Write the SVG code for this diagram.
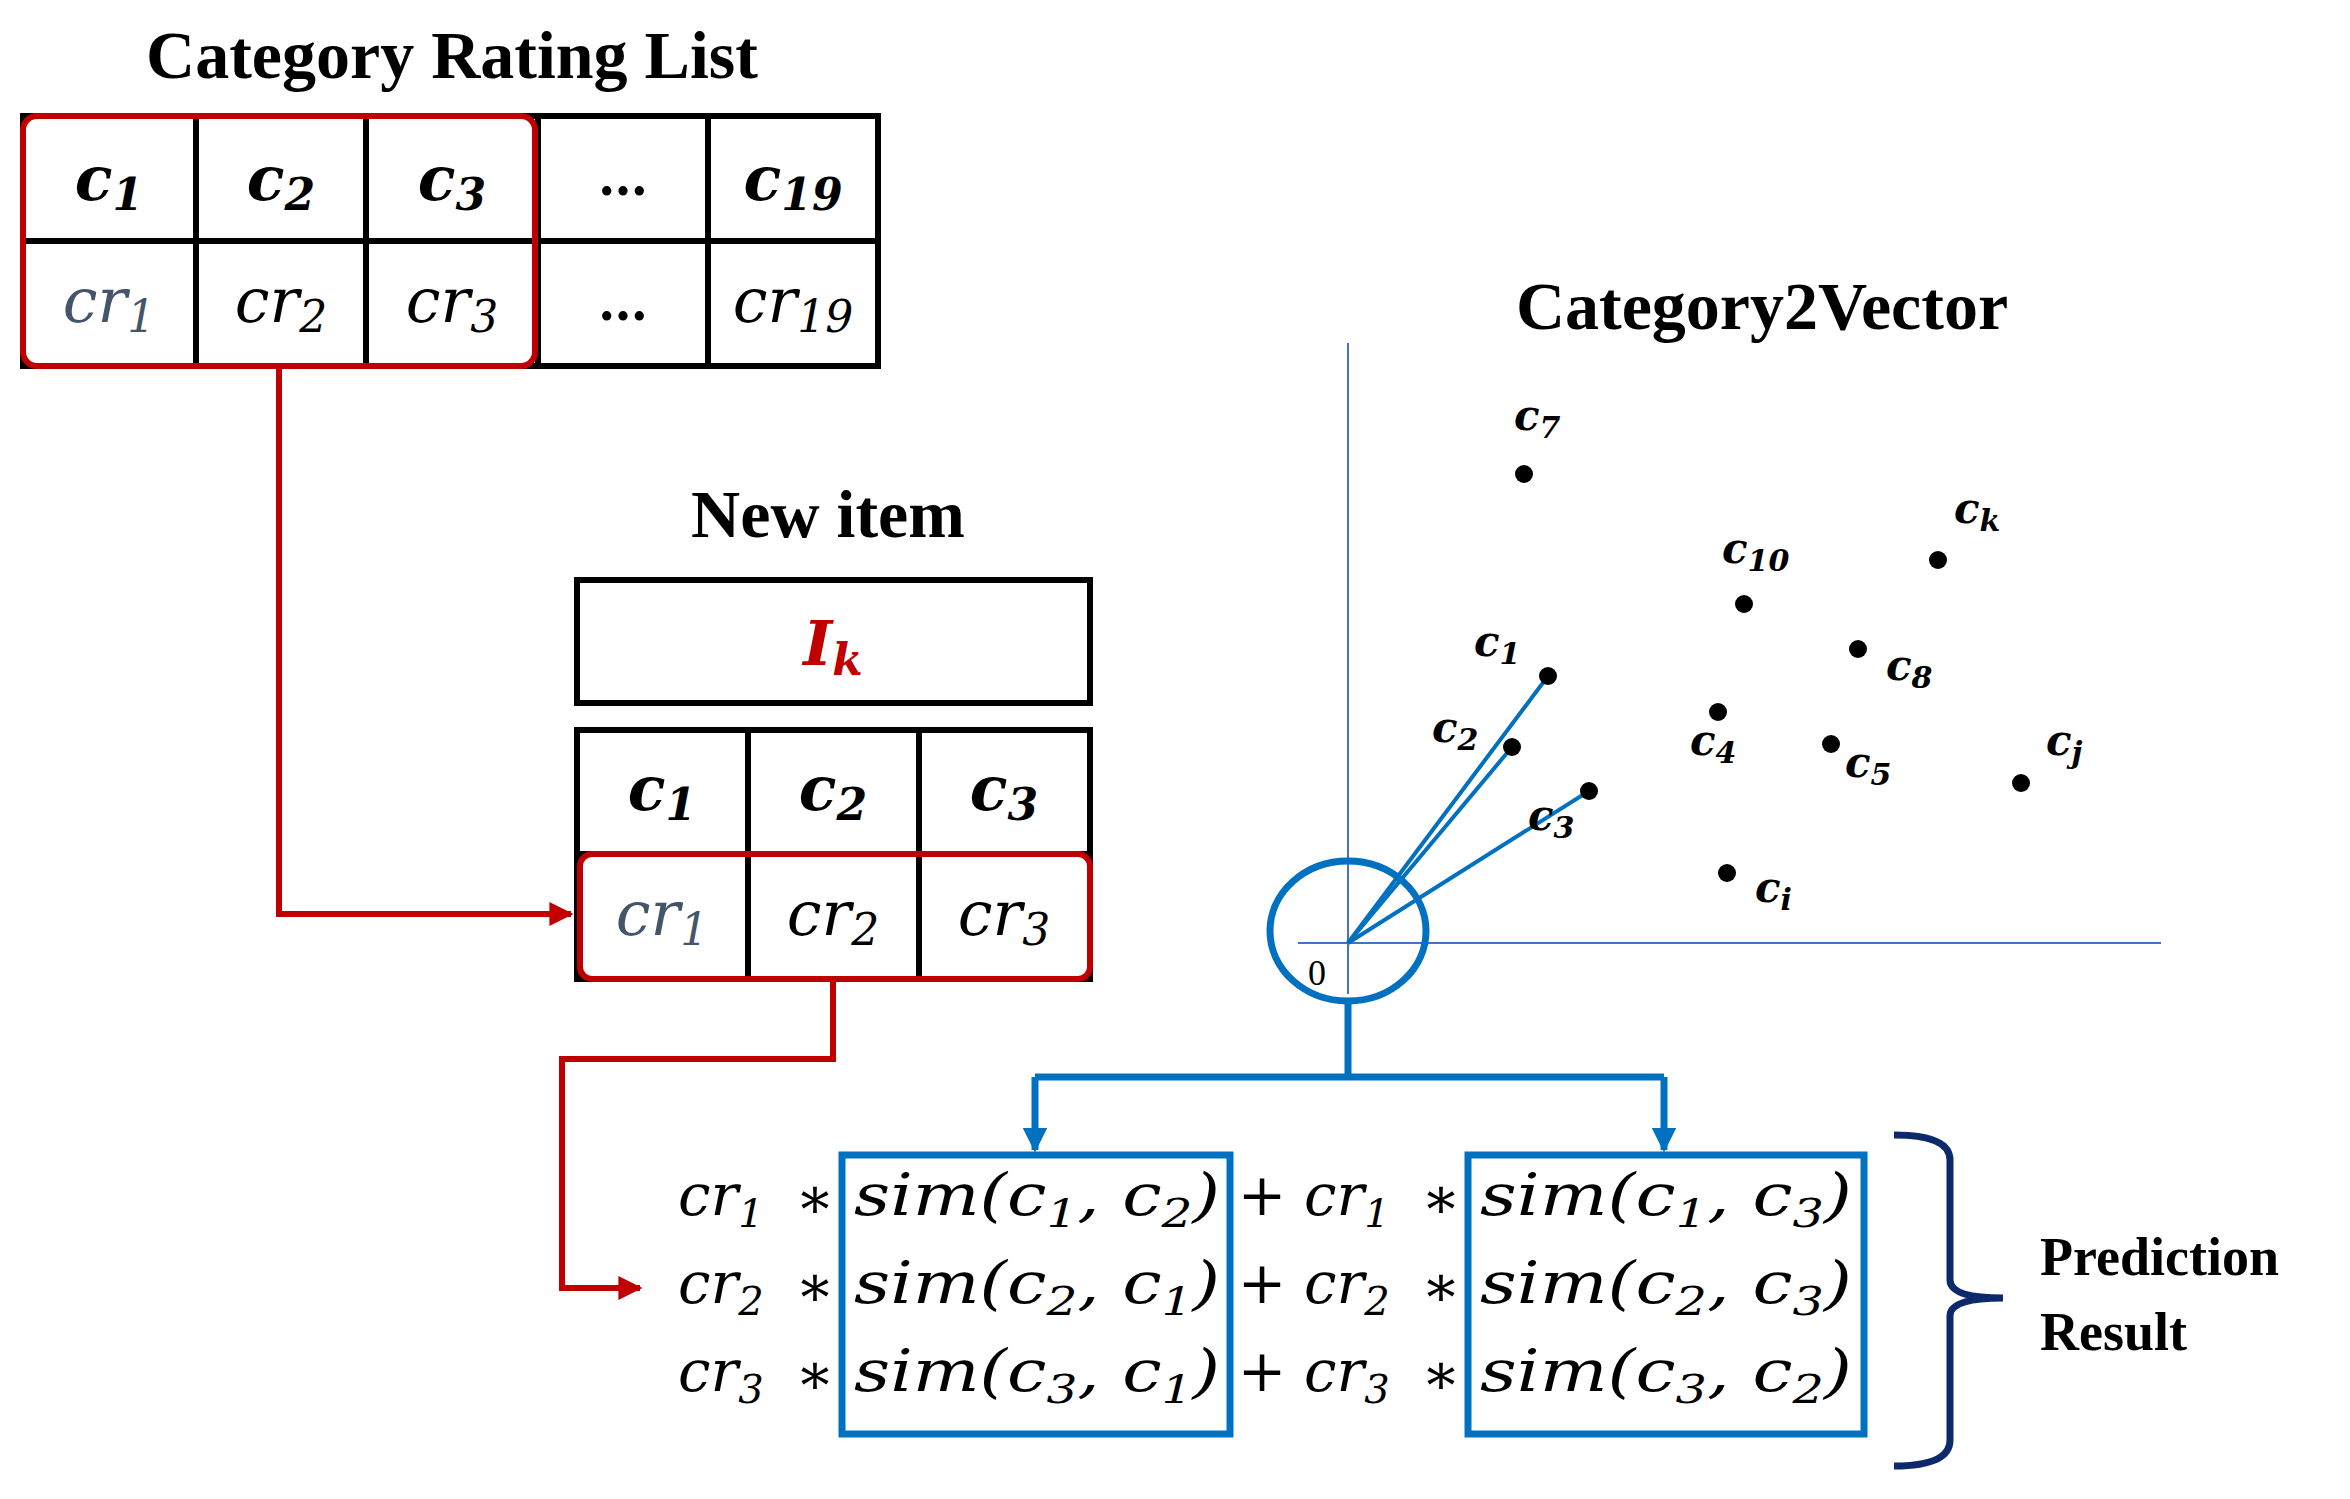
<svg xmlns="http://www.w3.org/2000/svg" width="2350" height="1499" viewBox="0 0 2350 1499">
<style>
.t{font-family:"Liberation Serif",serif;font-weight:bold;fill:#000}
.m{font-family:"DejaVu Serif","Liberation Serif",serif;font-style:italic}
.b{font-weight:bold}
.g{fill:none;stroke:#000;stroke-width:6}
.r{fill:none;stroke:#C00000;stroke-width:6}
.bl{fill:none;stroke:#0070C0;stroke-width:7}
.ax{stroke:#4472C4;stroke-width:2}
.v{stroke:#0070C0;stroke-width:4}
.lb{font-family:"DejaVu Serif",serif;font-style:italic;font-weight:bold;font-size:42px}
.f{font-family:"DejaVu Serif",serif;font-style:italic;font-size:58px}
.n{font-family:"DejaVu Serif",serif;font-size:58px}
</style>
<defs>
<marker id="ar" viewBox="0 0 10 10" refX="9" refY="5" markerWidth="4" markerHeight="4" orient="auto"><path d="M0,0L10,5L0,10z" fill="#C00000"/></marker>
<marker id="ab" viewBox="0 0 10 10" refX="9" refY="5" markerWidth="3.5" markerHeight="3.5" orient="auto"><path d="M0,0L10,5L0,10z" fill="#0070C0"/></marker>
</defs>
<g id="rating-list">
<text class="t" x="452" y="78" font-size="68" text-anchor="middle">Category Rating List</text>
<rect class="g" x="23" y="116" width="855" height="250"/>
<path class="g" d="M196,116V366M366,116V366M538,116V366M708,116V366M23,241H878"/>
<g class="m" font-size="62" text-anchor="middle">
<text x="109" y="200" class="b">c<tspan font-size="44" dy="10">1</tspan></text>
<text x="281" y="200" class="b">c<tspan font-size="44" dy="10">2</tspan></text>
<text x="452" y="200" class="b">c<tspan font-size="44" dy="10">3</tspan></text>
<text x="623" y="195" font-style="normal" font-weight="bold" font-size="50">…</text>
<text x="793" y="200" class="b">c<tspan font-size="44" dy="10">19</tspan></text>
<text x="109" y="322" fill="#44546A">cr<tspan font-size="44" dy="10">1</tspan></text>
<text x="281" y="322">cr<tspan font-size="44" dy="10">2</tspan></text>
<text x="452" y="322">cr<tspan font-size="44" dy="10">3</tspan></text>
<text x="623" y="320" font-style="normal" font-weight="bold" font-size="50">…</text>
<text x="793" y="322">cr<tspan font-size="44" dy="10">19</tspan></text>
</g>
<rect class="r" x="23" y="116" width="512" height="250" rx="14"/>
</g>
<g id="new-item">
<text class="t" x="828" y="537" font-size="68" text-anchor="middle">New item</text>
<rect class="g" x="577" y="580" width="513" height="123"/>
<text class="m b" x="833" y="665" font-size="62" fill="#C00000" text-anchor="middle">I<tspan font-size="44" dy="10">k</tspan></text>
<rect class="g" x="577" y="730" width="513" height="249"/>
<path class="g" d="M748,730V979M919,730V979M577,854H1090"/>
<g class="m" font-size="62" text-anchor="middle">
<text x="662" y="810" class="b">c<tspan font-size="44" dy="10">1</tspan></text>
<text x="833" y="810" class="b">c<tspan font-size="44" dy="10">2</tspan></text>
<text x="1004" y="810" class="b">c<tspan font-size="44" dy="10">3</tspan></text>
<text x="662" y="935" fill="#44546A">cr<tspan font-size="44" dy="10">1</tspan></text>
<text x="833" y="935">cr<tspan font-size="44" dy="10">2</tspan></text>
<text x="1004" y="935">cr<tspan font-size="44" dy="10">3</tspan></text>
</g>
<rect class="r" x="580" y="854" width="510" height="125" rx="12"/>
</g>
<g id="vector-space">
<text class="t" x="1762" y="329" font-size="68" text-anchor="middle">Category2Vector</text>
<line class="ax" x1="1348" y1="343" x2="1348" y2="994"/>
<line class="ax" x1="1298" y1="943" x2="2161" y2="943"/>
<line class="v" x1="1348" y1="943" x2="1548" y2="676"/>
<line class="v" x1="1348" y1="943" x2="1512" y2="747"/>
<line class="v" x1="1348" y1="943" x2="1589" y2="791"/>
<ellipse class="bl" cx="1348" cy="931" rx="78" ry="70"/>
<text x="1308" y="985" font-family="Liberation Serif,serif" font-size="36">0</text>
<g fill="#000">
<circle cx="1524" cy="474" r="9"/><circle cx="1938" cy="560" r="9"/><circle cx="1744" cy="604" r="9"/>
<circle cx="1858" cy="649" r="9"/><circle cx="1548" cy="676" r="9"/><circle cx="1718" cy="712" r="9"/>
<circle cx="1512" cy="747" r="9"/><circle cx="1831" cy="744" r="9"/><circle cx="2021" cy="783" r="9"/>
<circle cx="1589" cy="791" r="9"/><circle cx="1727" cy="873" r="9"/>
</g>
<g class="lb">
<text x="1514" y="430">c<tspan font-size="30" dy="8">7</tspan></text>
<text x="1954" y="523">c<tspan font-size="30" dy="8">k</tspan></text>
<text x="1722" y="563">c<tspan font-size="30" dy="8">10</tspan></text>
<text x="1474" y="656">c<tspan font-size="30" dy="8">1</tspan></text>
<text x="1886" y="680">c<tspan font-size="30" dy="8">8</tspan></text>
<text x="1432" y="742">c<tspan font-size="30" dy="8">2</tspan></text>
<text x="1690" y="755">c<tspan font-size="30" dy="8">4</tspan></text>
<text x="1845" y="777">c<tspan font-size="30" dy="8">5</tspan></text>
<text x="2046" y="755">c<tspan font-size="30" dy="8">j</tspan></text>
<text x="1528" y="830">c<tspan font-size="30" dy="8">3</tspan></text>
<text x="1755" y="902">c<tspan font-size="30" dy="8">i</tspan></text>
</g>
</g>
<g id="connectors">
<path class="r" d="M279,366V914H571" marker-end="url(#ar)"/>
<path class="r" d="M833,979V1059H562V1288H640" marker-end="url(#ar)"/>
<path class="bl" d="M1348,1001V1077M1035,1077H1664"/>
<path class="bl" d="M1035,1077V1150" marker-end="url(#ab)"/>
<path class="bl" d="M1664,1077V1150" marker-end="url(#ab)"/>
</g>
<g id="formula">
<rect class="bl" x="842" y="1155" width="388" height="279"/>
<rect class="bl" x="1468" y="1155" width="396" height="279"/>
<g class="f">
<text x="678" y="1215">cr<tspan font-size="40" dy="12">1</tspan></text>
<text x="1304" y="1215">cr<tspan font-size="40" dy="12">1</tspan></text>
<text x="678" y="1303">cr<tspan font-size="40" dy="12">2</tspan></text>
<text x="1304" y="1303">cr<tspan font-size="40" dy="12">2</tspan></text>
<text x="678" y="1391">cr<tspan font-size="40" dy="12">3</tspan></text>
<text x="1304" y="1391">cr<tspan font-size="40" dy="12">3</tspan></text>
<text x="854" y="1215" textLength="366" lengthAdjust="spacingAndGlyphs">sim(c<tspan font-size="40" dy="12">1</tspan><tspan dy="-12">, c</tspan><tspan font-size="40" dy="12">2</tspan><tspan dy="-12">)</tspan></text>
<text x="854" y="1303" textLength="366" lengthAdjust="spacingAndGlyphs">sim(c<tspan font-size="40" dy="12">2</tspan><tspan dy="-12">, c</tspan><tspan font-size="40" dy="12">1</tspan><tspan dy="-12">)</tspan></text>
<text x="854" y="1391" textLength="366" lengthAdjust="spacingAndGlyphs">sim(c<tspan font-size="40" dy="12">3</tspan><tspan dy="-12">, c</tspan><tspan font-size="40" dy="12">1</tspan><tspan dy="-12">)</tspan></text>
<text x="1480" y="1215" textLength="372" lengthAdjust="spacingAndGlyphs">sim(c<tspan font-size="40" dy="12">1</tspan><tspan dy="-12">, c</tspan><tspan font-size="40" dy="12">3</tspan><tspan dy="-12">)</tspan></text>
<text x="1480" y="1303" textLength="372" lengthAdjust="spacingAndGlyphs">sim(c<tspan font-size="40" dy="12">2</tspan><tspan dy="-12">, c</tspan><tspan font-size="40" dy="12">3</tspan><tspan dy="-12">)</tspan></text>
<text x="1480" y="1391" textLength="372" lengthAdjust="spacingAndGlyphs">sim(c<tspan font-size="40" dy="12">3</tspan><tspan dy="-12">, c</tspan><tspan font-size="40" dy="12">2</tspan><tspan dy="-12">)</tspan></text>
</g>
<g class="n" text-anchor="middle">
<text x="815" y="1218">∗</text><text x="1441" y="1218">∗</text>
<text x="815" y="1306">∗</text><text x="1441" y="1306">∗</text>
<text x="815" y="1394">∗</text><text x="1441" y="1394">∗</text>
<text x="1262" y="1215">+</text><text x="1262" y="1303">+</text><text x="1262" y="1391">+</text>
</g>
</g>
<g id="prediction-result">
<path d="M1894,1135Q1950,1135 1950,1160V1280Q1950,1298 2003,1298Q1950,1298 1950,1316V1440Q1950,1466 1894,1466" fill="none" stroke="#0C2A6B" stroke-width="7"/>
<text class="t" x="2040" y="1275" font-size="54">Prediction</text>
<text class="t" x="2040" y="1350" font-size="54">Result</text>
</g>
</svg>
